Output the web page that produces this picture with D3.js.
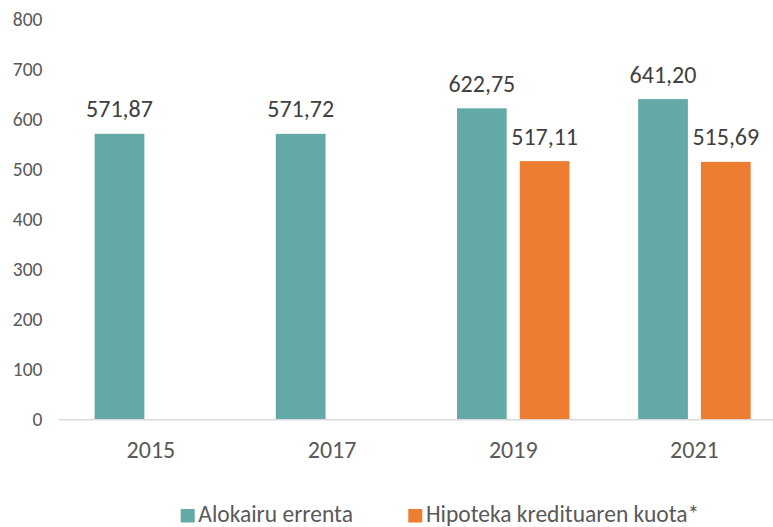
<!DOCTYPE html>
<html>
<head>
<meta charset="utf-8">
<script src="https://cdn.jsdelivr.net/npm/d3@7"></script>
<style>
  body { margin: 0; background: #fff; }
  svg { font-family: Carlito, Calibri, Lato, "Open Sans", sans-serif; }
</style>
</head>
<body>
<script>
// chart data
var years = ["2015", "2017", "2019", "2021"];
var seriesNames = ["Alokairu errenta", "Hipoteka kredituaren kuota*"];
var rentValues = [571.87, 571.72, 622.75, 641.20];
var mortgageValues = [null, null, 517.11, 515.69];
var yTicks = [0, 100, 200, 300, 400, 500, 600, 700, 800];
var colors = ["#63A9A6", "#ED7D31"];

var width = 773,
    height = 527;

var svg = d3.select("body")
    .append("svg")
    .attr("width", width)
    .attr("height", height);

// scales
var x = d3.scaleBand()
    .domain(years)
    .range([60.3, 785])
    .padding(0);

var xInner = d3.scaleBand()
    .domain([0, 1])
    .range([-56.25, 56.25])
    .paddingInner(0.208);

var y = d3.scaleLinear()
    .domain([0, 800])
    .range([419.7, 19.7]);

var fmt = function(v){ return d3.format(".2f")(v).replace(".", ","); };

// y axis labels
svg.selectAll(".ytick")
    .data(yTicks)
    .enter()
    .append("text")
    .attr("class", "ytick")
    .attr("x", 42.5)
    .attr("y", function(d){ return y(d); })
    .attr("dy", "0.32em")
    .attr("text-anchor", "end")
    .attr("fill", "#595959")
    .style("font-size", "19.5px")
    .text(function(d){ return d; });

// bars, one group per series
var seriesData = [rentValues, mortgageValues];
seriesData.forEach(function(vals, i){
    var rows = years.map(function(yr, j){ return {year: yr, value: vals[j]}; })
        .filter(function(d){ return d.value != null; });

    svg.selectAll(".bar" + i)
        .data(rows)
        .enter()
        .append("rect")
        .attr("class", "bar" + i)
        .attr("x", function(d){ return x(d.year) + x.bandwidth() / 2 + xInner(i); })
        .attr("y", function(d){ return y(d.value); })
        .attr("width", xInner.bandwidth())
        .attr("height", function(d){ return y(0) - y(d.value); })
        .attr("fill", colors[i]);

    // value labels
    svg.selectAll(".label" + i)
        .data(rows)
        .enter()
        .append("text")
        .attr("class", "label" + i)
        .attr("x", function(d){ return x(d.year) + x.bandwidth() / 2 + xInner(i) + xInner.bandwidth() / 2; })
        .attr("y", function(d){ return y(d.value) - 16.6; })
        .attr("text-anchor", "middle")
        .attr("fill", "#404040")
        .style("font-size", "24px")
        .text(function(d){ return fmt(d.value); });
});

// baseline
svg.append("line")
    .attr("x1", 59)
    .attr("x2", width)
    .attr("y1", y(0))
    .attr("y2", y(0))
    .attr("stroke", "#D9D9D9")
    .attr("stroke-width", 1.5);

// x axis labels
svg.selectAll(".xlab")
    .data(years)
    .enter()
    .append("text")
    .attr("class", "xlab")
    .attr("x", function(d){ return x(d) + x.bandwidth() / 2; })
    .attr("y", 458.3)
    .attr("text-anchor", "middle")
    .attr("fill", "#595959")
    .style("font-size", "24px")
    .text(function(d){ return d; });

// legend
var legendX = [180.7, 408.3];
var legend = svg.selectAll(".legend")
    .data(seriesNames)
    .enter()
    .append("g")
    .attr("class", "legend")
    .attr("transform", function(d, i){ return "translate(" + legendX[i] + ",509)"; });

legend.append("rect")
    .attr("width", 14)
    .attr("height", 13.5)
    .attr("fill", function(d, i){ return colors[i]; });

legend.append("text")
    .attr("x", 17.6)
    .attr("y", 13)
    .attr("fill", "#595959")
    .style("font-size", "23.5px")
    .text(function(d){ return d; });
</script>
</body>
</html>
